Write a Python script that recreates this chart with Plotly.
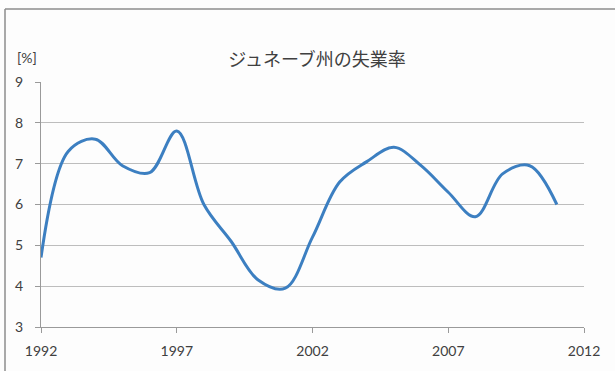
import plotly.graph_objects as go

# Unemployment rate in the canton of Geneva, yearly values (%)
years = [1992, 1993, 1994, 1995, 1996, 1997, 1998, 1999, 2000, 2001,
         2002, 2003, 2004, 2005, 2006, 2007, 2008, 2009, 2010, 2011]
rate = [4.7, 7.3, 7.6, 6.95, 6.78, 7.8, 6.0, 5.1, 4.15, 3.95,
        5.2, 6.55, 7.05, 7.4, 6.95, 6.3, 5.7, 6.75, 6.95, 6.0]

x_ticks = [1992, 1997, 2002, 2007, 2012]
y_ticks = [3, 4, 5, 6, 7, 8, 9]

title_text = "ジュネーブ州の失業率"
unit_text = "[%]"

W, H = 615, 371
ML, MR, MT, MB = 41, 31, 82, 41
pw, ph = W - ML - MR, H - MT - MB


def px_x(p):
    return (p - ML) / pw


def px_y(p):
    return (H - MB - p) / ph


text_col = "#404040"
grid_col = "#bdbdbd"
axis_col = "#9a9a9a"

fig = go.Figure()
fig.add_trace(go.Scatter(
    x=years, y=rate, mode="lines",
    line=dict(color="#3c7fc1", width=3, shape="spline", smoothing=1.0),
    hoverinfo="x+y", showlegend=False,
))

fig.update_layout(
    width=W, height=H,
    margin=dict(l=ML, r=MR, t=MT, b=MB),
    paper_bgcolor="#fdfdfd", plot_bgcolor="#fdfdfd",
    font=dict(family="Lato, 'Noto Sans', sans-serif", size=13, color=text_col),
    title=dict(text=title_text, x=(317 / W), xanchor="center",
               y=1 - 60 / H, yanchor="middle",
               font=dict(family="'Noto Sans CJK JP', sans-serif", size=18, color=text_col)),
    xaxis=dict(range=[1992, 2012], tickvals=x_ticks, ticktext=[str(v) for v in x_ticks],
               showgrid=False, zeroline=False, showline=True, linecolor=axis_col, linewidth=1,
               ticks="outside", ticklen=5, tickcolor=axis_col, ticklabelstandoff=6,
               tickfont=dict(size=14, color=text_col)),
    yaxis=dict(range=[3, 9], tickvals=y_ticks, showgrid=True, gridcolor=grid_col, gridwidth=1.3,
               zeroline=False, showline=True, linecolor=axis_col, linewidth=1,
               ticks="outside", ticklen=5, tickcolor=axis_col, ticklabelstandoff=9,
               tickfont=dict(size=14, color=text_col)),
    annotations=[dict(text=unit_text, xref="paper", yref="paper",
                      x=px_x(27), y=px_y(57), xanchor="center", yanchor="middle",
                      showarrow=False, font=dict(size=14, color=text_col))],
    shapes=[
        dict(type="line", xref="paper", yref="paper", x0=px_x(5), x1=px_x(5),
             y0=px_y(H + 5), y1=px_y(8), line=dict(color="#8c8c8c", width=1.5)),
        dict(type="line", xref="paper", yref="paper", x0=px_x(5), x1=px_x(W + 5),
             y0=px_y(8), y1=px_y(8), line=dict(color="#8c8c8c", width=1.5)),
    ],
)

fig.write_html("out.html")
